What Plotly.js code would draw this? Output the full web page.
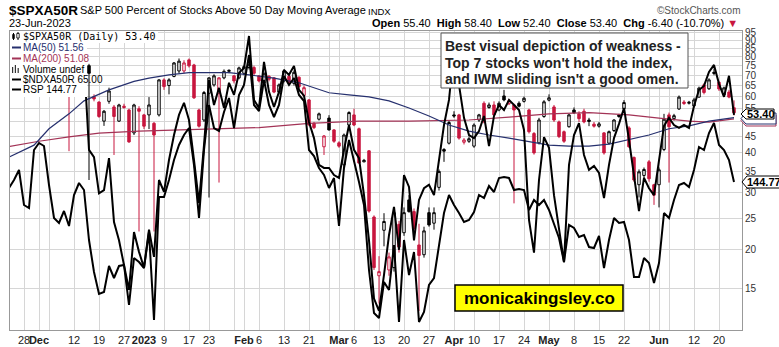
<!DOCTYPE html>
<html><head><meta charset="utf-8">
<script src="https://cdn.plot.ly/plotly-3.0.1.min.js"></script>
<style>html,body{margin:0;padding:0;background:#fff;}#chart{width:779px;height:347px;}</style>
</head><body><div id="chart"></div>
<script>
// ---- calendar (category axis of trading days) ----
const startDate = '2022-11-22', endDate = '2023-06-23';
const holidays = ['2022-11-24','2022-12-26','2023-01-02','2023-01-16','2023-02-20','2023-04-07','2023-05-29','2023-06-19'];
function tradingDays(s, e, hol){
  const out=[]; let d=new Date(s+'T00:00:00Z'); const end=new Date(e+'T00:00:00Z');
  while(d<=end){const wd=d.getUTCDay(); const k=d.toISOString().slice(0,10);
    if(wd!==0&&wd!==6&&!hol.includes(k)) out.push(k); d.setUTCDate(d.getUTCDate()+1);}
  return out;
}
const dates = tradingDays(startDate, endDate, holidays);

// ---- $SPXA50R daily OHLC (Nov | Dec | Jan | Feb | Mar | Apr | May | Jun) ----
const spxOpen = [74,77,79,78,71,70,
 85,84,82,71,65,66,69,66,71,72,75,60,57.7,50.3,58,55.7,50.3,56,54.5,46.2,55,
 52.6,52.6,49.5,52.6,67.7,65,69.4,72.2,72.2,78.2,75.4,54.5,50.7,61.5,65.3,61.5,68.7,72,69.7,68.7,
 71,74,74,69.7,66.2,69.5,68.7,62,67.2,69.5,66,69,60.5,58.6,49.5,51,41.8,51.4,47.2,
 43,36.7,48.9,52.6,47.6,37.5,40.6,25.2,16.5,22.9,17.2,17.5,23.9,22.5,28.5,26.2,20.6,19.2,26,24.1,31.2,41,42.9,
 52.6,52.6,43.2,43.5,42,50.7,57.2,55.5,56.5,54.5,60.3,57,56.5,57.2,58,54.5,46,43,52,
 58.5,55.7,50,46.6,48.3,54.5,53,54,50.7,49.2,48.5,46.2,42.9,47,52.6,55,47.9,38.7,31.8,34,37.5,31.8,
 31.8,41,52.6,51.2,54.9,57.7,57.2,56.1,59.8,65.3,63.5,71.5,66.5,60.8,62,55.4];
const spxHigh = [78,80,81,78.5,73,86,
 88,86,82,72,68,70,70,72,78,76,76,61,58,54.5,64,56.5,57,57,55,57,56,
 53,59.8,50,68,68.5,68.5,77,79,78,79,76,55,62.5,69,70.5,69,73,73,70,74.5,
 75,77,75,70,71.5,70,69,66,73,70,72.5,69.5,65,59,50,53.5,45.5,52.5,47.5,
 43.5,46,54,55,48,38.3,40.8,25.5,19,25.9,19.5,26.5,24.5,27,29.5,26.8,24,23.5,27,27,35.5,41.4,50.5,
 54,53,44.5,45,49.5,53,58,57.5,58,58,63,59,57,58,60,55,46.5,51.5,58.5,
 61,56.5,50.5,47,53,55.5,54,55,51.5,50,50,46.5,47,51,53,58.5,48.5,39,35.5,36,38,32,
 36,53,53.5,53,60.5,58.5,58.2,59.5,64.5,66,68.5,73.5,67,64.5,63,58.4];
const spxLow = [72,75,77,70,69,70,
 82,78,70,64,63,64,40.5,65,68,69,32.9,58,51.5,48.6,57,39.4,50,55,43,45.5,22.7,
 47.5,47.5,22.7,52,63,61,69,71,71,74,59,48,50,29,64.5,32.3,68,71,66,68,
 70,73,70,66.5,65.5,67,61.5,61,66.5,65.5,65,64,60,48.5,47.5,50.5,39.4,47,43,
 41.5,36,48.5,48.5,37,37.4,26,17.2,13.5,20.4,16.5,17,19.5,22,26,22.8,12.8,18.8,23.5,23,30.5,37.5,42.5,
 51.5,44,42.5,43,41.5,50,49.5,55,52,54,58,56.5,27.8,55.5,57.5,46,39.5,42.5,51.5,
 58,50,44.5,43,48,53,50,49.5,48.5,48,48,39.5,42.5,46.5,51.5,54.5,41.5,32.5,29,33,32.5,27.5,
 27,40.5,32.3,50.5,54.5,56.5,56.7,55.5,59.5,61,63,70,62.5,60,59.3,52.4];
const spxClose = [77,79,78,71,70,85,
 84,82,71,65,66,69,66,71,72,70,71,59,52,54,62.5,52,56.5,55.5,43.3,56.5,54,
 48.5,56.5,45.5,67.7,64.5,67.7,76.5,77.5,76.5,74.9,59.5,48.5,61.8,68.7,69.7,68.7,72,72.5,67.2,73.8,
 74.5,75.5,71,67.2,70.7,68,62,65.3,72.2,66.5,71.5,64.5,64,49,48,53,45.2,47.2,43.5,
 42,45.5,53.5,48.9,37.2,37.9,26.3,17.5,17,24.4,18.9,26,20.3,26,26.2,23.2,19.1,22.8,23.8,26,35,40.5,49.8,
 52.2,44.5,43.9,44.3,48.9,52.6,50,56.5,52.6,57.2,58.6,58.2,54.5,56,59.3,46.6,40,50.7,57.8,
 59.5,50.7,45,43.5,52.6,53.4,51.2,50,50.2,48.5,49.3,40,46.6,50.7,52,57.5,41.8,32.9,34.9,35.5,33.2,29.5,
 35.4,51,48.3,52.3,59.8,57.1,57.6,58.6,63.8,61.8,67.7,71,63.4,63.9,59.8,53.4];

// ---- overlays ----
const ndxa50r = [81.1,84.0,85.2,78.2,77.1,87.1,
 89.0,87.7,81.1,77.1,78.2,79.3,75.4,81.1,82.8,78.2,40.9,38.8,29.9,30.6,38.5,24.3,21.3,17.8,14.9,22.6,19.6,
 17.5,23.0,18.9,32.9,30.2,38.0,45.5,52.6,57.4,50.7,38.0,27.9,42.3,67.7,56.5,63.9,55.3,66.3,60.8,71.2,
 73.8,92.9,58.6,55.3,77.1,62.1,55.7,62.1,72.7,70.2,74.9,63.0,60.4,50.0,44.5,36.7,35.9,35.9,34.1,
 33.4,40.9,48.9,40.9,38.5,29.5,21.3,14.0,12.8,16.6,22.1,27.1,19.9,34.1,31.3,21.3,28.5,31.0,31.8,29.5,38.0,48.9,58.6,
 84.0,65.3,51.5,45.5,44.5,46.8,52.2,42.0,52.2,56.5,54.5,58.6,56.5,54.5,47.2,24.7,19.5,32.9,44.8,
 41.5,29.5,23.0,18.2,36.7,45.5,49.6,39.4,35.4,36.4,34.6,28.9,36.7,44.5,49.3,55.3,43.9,34.1,26.3,33.4,31.0,29.5,
 37.7,48.6,51.5,48.9,47.9,48.9,47.9,56.1,63.0,64.8,71.7,75.4,65.8,59.9,69.7,52.6];
const rsp = [144.29,144.93,145.73,142.93,142.69,147.33,
 147.89,147.65,144.53,141.89,141.49,142.45,141.25,143.73,144.69,144.13,140.13,137.57,135.81,135.97,138.05,137.09,138.05,138.13,134.93,138.69,138.37,
 137.89,140.77,133.73,143.57,143.57,144.93,146.53,147.73,148.53,149.09,146.13,141.89,147.33,150.93,149.09,148.85,150.37,151.49,149.09,151.73,
 152.53,154.93,150.93,150.45,152.93,150.93,149.97,150.93,153.25,152.53,153.09,151.73,151.25,147.33,146.85,145.89,145.33,144.29,145.09,
 141.25,145.89,148.13,146.53,144.77,142.93,137.73,134.29,133.89,136.77,136.13,139.73,133.57,140.13,137.33,139.17,133.57,134.37,136.53,137.09,139.89,142.29,143.73,
 142.93,142.29,141.57,141.73,142.37,143.73,143.49,144.45,143.97,145.09,145.17,145.09,144.13,144.21,144.13,142.53,143.33,142.93,143.33,
 142.53,141.33,140.29,138.37,141.33,141.09,140.37,140.53,139.57,139.49,140.45,137.89,140.13,141.89,141.49,141.57,140.13,137.17,137.17,138.69,138.29,136.69,
 138.29,142.29,141.89,143.33,144.53,144.69,144.37,145.73,147.57,147.33,148.69,149.49,147.73,147.33,146.53,144.77];

const ma50Dates = ['2022-11-22','2022-11-30','2022-12-05','2022-12-09','2022-12-14','2022-12-21','2022-12-29','2023-01-04','2023-01-10','2023-01-17','2023-01-23','2023-01-27','2023-02-02','2023-02-09','2023-02-16','2023-02-23','2023-02-27','2023-03-03','2023-03-09','2023-03-15','2023-03-21','2023-03-27','2023-03-31','2023-04-06','2023-04-13','2023-04-19','2023-04-25','2023-05-01','2023-05-05','2023-05-11','2023-05-17','2023-05-24','2023-05-30','2023-06-05','2023-06-09','2023-06-15','2023-06-23'];
const ma50Vals = [38.8,42.3,47.6,53.0,58.2,63.0,67.0,68.6,70.2,71.3,71.3,71.3,70.2,68.6,66.3,63.0,61.7,60.8,59.9,58.2,55.3,52.2,48.9,46.8,45.5,44.5,43.5,42.3,42.0,42.0,42.6,44.5,45.5,47.6,48.6,50.3,51.56];
const ma200Dates = ['2022-11-22','2022-12-01','2022-12-09','2022-12-19','2022-12-30','2023-01-19','2023-02-06','2023-02-21','2023-03-07','2023-03-21','2023-04-06','2023-04-19','2023-05-01','2023-05-11','2023-05-23','2023-06-01','2023-06-09','2023-06-15','2023-06-23'];
const ma200Vals = [41.9,43.5,44.9,46.1,46.8,47.3,48.0,49.5,50.3,50.3,50.7,51.8,53.0,53.5,52.6,51.4,50.3,49.9,51.08];

const tickDates = ['2022-11-28','2022-12-01','2022-12-05','2022-12-12','2022-12-19','2022-12-27','2023-01-03','2023-01-09','2023-01-17','2023-01-23','2023-01-30','2023-02-01','2023-02-06','2023-02-13','2023-02-21','2023-02-27','2023-03-01','2023-03-06','2023-03-13','2023-03-20','2023-03-27','2023-04-03','2023-04-10','2023-04-17','2023-04-24','2023-05-01','2023-05-08','2023-05-15','2023-05-22','2023-05-30','2023-06-01','2023-06-05','2023-06-12','2023-06-20'];
const tickLabels = ['28','<b>Dec</b>','','12','19','27','<b>2023</b>','9','17','23','','<b>Feb</b>','6','13','21','','<b>Mar</b>','6','13','20','27','<b>Apr</b>','10','17','24','<b>May</b>','8','15','22','','<b>Jun</b>','','12','20'];
const yTicks = [15,20,25,30,35,40,45,50,55,60,65,70,75,80,85,90,95];

// ---- styling ----
const RED='#c8173f', NAVY='#26306e', MAROON='#a33356', GRID='#d6d6d6';
const PL=10, PR=742, PT=31, PB=330;
const X = p => (p-PL)/(PR-PL), Y = p => (PB-p)/(PB-PT);

// split candles: black = close >= previous close, red = lower close
const up={x:[],o:[],h:[],l:[],c:[]}, dn={x:[],o:[],h:[],l:[],c:[]};
dates.forEach((d,i)=>{
  const prev = i>0 ? spxClose[i-1] : spxOpen[i];
  const g = spxClose[i]>=prev ? up : dn;
  g.x.push(d); g.o.push(spxOpen[i]); g.h.push(spxHigh[i]); g.l.push(spxLow[i]); g.c.push(spxClose[i]);
});

const traces = [
 {type:'candlestick', x:up.x, open:up.o, high:up.h, low:up.l, close:up.c, whiskerwidth:0, hoverinfo:'skip',
  increasing:{line:{color:'#000',width:1}, fillcolor:'#fff'}, decreasing:{line:{color:'#000',width:1}, fillcolor:'#000'}},
 {type:'candlestick', x:dn.x, open:dn.o, high:dn.h, low:dn.l, close:dn.c, whiskerwidth:0, hoverinfo:'skip',
  increasing:{line:{color:RED,width:1}, fillcolor:'#fff'}, decreasing:{line:{color:RED,width:1}, fillcolor:RED}},
 {type:'scatter', mode:'lines', x:ma200Dates, y:ma200Vals, line:{color:MAROON,width:1.2}, hoverinfo:'skip'},
 {type:'scatter', mode:'lines', x:ma50Dates, y:ma50Vals, line:{color:NAVY,width:1.2}, hoverinfo:'skip'},
 {type:'scatter', mode:'lines', x:dates, y:ndxa50r, line:{color:'#000',width:2}, hoverinfo:'skip'},
 {type:'scatter', mode:'lines', x:dates, y:rsp, yaxis:'y2', line:{color:'#000',width:2}, hoverinfo:'skip'}
];

function rect(x0,y0,x1,y1,fill,lc,lw){return {type:'rect',xref:'paper',yref:'paper',layer:'above',x0:X(x0),x1:X(x1),y0:Y(y1),y1:Y(y0),fillcolor:fill,line:{color:lc||fill,width:lw===undefined?0:lw}};}
function seg(x0,y0,x1,y1,c,w){return {type:'line',xref:'paper',yref:'paper',layer:'above',x0:X(x0),x1:X(x1),y0:Y(y0),y1:Y(y1),line:{color:c,width:w}};}
function tag(tip,top,bot,right,lc){const p=`M ${X(tip)},${Y((top+bot)/2)} L ${X(tip+5)},${Y(top)} L ${X(right)},${Y(top)} L ${X(right)},${Y(bot)} L ${X(tip+5)},${Y(bot)} Z`;
  return {type:'path',xref:'paper',yref:'paper',layer:'above',path:p,fillcolor:'#fff',line:{color:lc,width:1}};}

const shapes = [
 rect(10,31,87,97,'#fff'), rect(10,31,158,43,'#fff'),
 // legend icons
 seg(13.5,33,13.5,40,'#000',1), rect(12.5,34.5,14.5,38.5,'#000','#000',0.5),
 seg(18,32,18,40,'#000',1), rect(16.8,33.5,19.2,38,'#fff','#000',0.8),
 seg(12,47.5,21,47.5,NAVY,2), seg(12,58.5,21,58.5,MAROON,2),
 rect(12,67,13.2,73,'#333'), rect(14.8,65,16,73,'#333'), rect(17.6,68,18.8,73,'#333'),
 seg(12,79.5,21,79.5,'#000',2), seg(12,89.5,21,89.5,'#000',2),
 // note boxes
 rect(441,33,688,88,'#fff','#555',1),
 rect(455,285,623,311,'#ffff00','#000',1.5),
 // right-edge value tags
 tag(741,115,126,776,MAROON), tag(741,113,124,776,NAVY), tag(741,109,119,774,'#000'),
 tag(742,176,188,790,'#000')
];

function ann(text,x,y,o){return Object.assign({text:text,x:X(x),y:Y(y),xref:'paper',yref:'paper',showarrow:false,xanchor:'left',yanchor:'middle',borderpad:0,font:{size:11,color:'#000'}},o||{});}
const annotations = [
 ann('<b>$SPXA50R</b>',8,10.5,{font:{family:'Arial',size:13.5,color:'#000'}}),
 ann('S&amp;P 500 Percent of Stocks Above 50 Day Moving Average',79,10.5,{font:{size:11,color:'#000'}}),
 ann('INDX',367,11,{font:{size:9.5,color:'#000'}}),
 ann('23-Jun-2023',8,23,{font:{size:11,color:'#000'}}),
 ann('©StockCharts.com',742,10.5,{xanchor:'right',font:{size:10,color:'#555'}}),
 ann('<b>Open</b> 55.40\u00a0\u00a0<b>High</b> 58.40\u00a0\u00a0<b>Low</b> 52.40\u00a0\u00a0<b>Close</b> 53.40\u00a0\u00a0<b>Chg</b> -6.40 (-10.70%) <span style="color:#c8173f">▼</span>',739,23.5,{xanchor:'right',font:{size:11,color:'#000'}}),
 // legend
 ann('$SPXA50R (Daily) 53.40',22,36.5,{font:{family:'DejaVu Sans Mono',size:10,color:'#000'}}),
 ann('MA(50) 51.56',22,47.5,{font:{size:10,color:NAVY}}),
 ann('MA(200) 51.08',22,58.5,{font:{size:10,color:MAROON}}),
 ann('Volume undef',22,69.5,{font:{size:10,color:'#000'}}),
 ann('$NDXA50R 65.00',22,79.5,{font:{size:10,color:'#000'}}),
 ann('RSP 144.77',22,89.5,{font:{size:10,color:'#000'}}),
 // note
 ann('<b>Best visual depiction of weakness -</b>',444,46.5,{font:{size:14,color:'#222'}}),
 ann('<b>Top 7 stocks won\'t hold the index,</b>',444,62.5,{font:{size:14,color:'#222'}}),
 ann('<b>and IWM sliding isn\'t a good omen.</b>',444,78.5,{font:{size:14,color:'#222'}}),
 ann('<b>monicakingsley.co</b>',539,298,{xanchor:'center',font:{size:17,color:'#000'}}),
 ann('<b>53.40</b>',746,114,{font:{size:11,color:'#000'}}),
 ann('<b>144.77</b>',746,182,{font:{size:11,color:'#000'}})
];

const layout = {
 width:779, height:347, margin:{l:PL,r:779-PR,t:PT,b:347-PB,pad:0},
 paper_bgcolor:'#fff', plot_bgcolor:'#fff', showlegend:false,
 font:{family:'Arial, Liberation Sans, sans-serif', size:11, color:'#000'},
 xaxis:{type:'category', categoryorder:'array', categoryarray:dates, range:[0.2,146.6],
  tickmode:'array', tickvals:tickDates, ticktext:tickLabels, tickangle:0,
  showgrid:true, gridcolor:GRID, gridwidth:1, showline:true, linecolor:'#999', linewidth:1, mirror:true,
  ticks:'', tickfont:{size:11,color:'#222'}, rangeslider:{visible:false}, zeroline:false, fixedrange:true},
 yaxis:{type:'log', range:[Math.log10(11.16), Math.log10(96.3)], side:'right',
  tickmode:'array', tickvals:yTicks, ticktext:yTicks.map(String),
  showgrid:true, gridcolor:GRID, gridwidth:1, showline:true, linecolor:'#999', linewidth:1, mirror:true,
  ticks:'', tickfont:{size:10,color:'#333'}, zeroline:false, fixedrange:true},
 yaxis2:{overlaying:'y', range:[132.93,156.85], visible:false, fixedrange:true},
 shapes:shapes, annotations:annotations
};
Plotly.newPlot('chart', traces, layout, {staticPlot:true, displayModeBar:false});
</script></body></html>
